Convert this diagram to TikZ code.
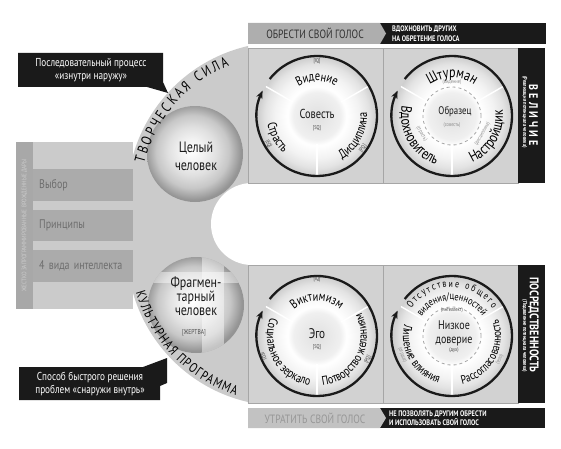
\documentclass[tikz,border=0pt]{standalone}
\usepackage{fontspec}
\setmainfont{PT Sans}[FakeStretch=0.8]
\usetikzlibrary{arrows.meta,decorations.text,calc}

\definecolor{bandgray}{HTML}{CBCBCB}
\definecolor{panelgray}{HTML}{D2D2D2}
\definecolor{stripgray}{HTML}{A8A8A8}
\definecolor{boxgray}{HTML}{ABABAB}
\definecolor{boxtext}{HTML}{6E6E6E}
\definecolor{inkblack}{HTML}{1A1A1A}
\definecolor{bannergray}{HTML}{AEAEAE}
\definecolor{palebanner}{HTML}{C2C2C2}
\definecolor{paletext}{HTML}{979797}

\pgfdeclareradialshading{ringshade}{\pgfpoint{0bp}{0bp}}{color(0bp)=(black!12); color(10bp)=(black!6); color(12.5bp)=(white); color(18bp)=(black!5); color(22bp)=(black!11); color(25bp)=(black!19); color(50bp)=(black!19)}
\pgfdeclareradialshading{globeshade}{\pgfpoint{-2bp}{2bp}}{color(0bp)=(white); color(6bp)=(black!5); color(12.5bp)=(black!12); color(19bp)=(black!22); color(25bp)=(black!42); color(50bp)=(black!42)}

\newcommand{\lblfont}{\fontsize{13}{13}\selectfont}
\newcommand{\bigfont}{\fontsize{15}{15}\selectfont}
\newcommand{\tinyfont}{\fontsize{5.5}{5.5}\selectfont}

\tikzset{
  panel/.style={fill=panelgray, draw=black!35, line width=0.4pt},
  divider/.style={draw=white, line width=1.4pt},
  ringarrow/.style={draw=inkblack, line width=2.3pt, -{Stealth[length=8pt,width=6.5pt]}},
  curved/.style={decorate, decoration={text along path, text align=center, text={#1}}},
  fitted/.style={decorate, decoration={text along path, text align={fit to path}, text={#1}}},
  iq/.style={font=\tinyfont, text=black!75, inner sep=0pt},
  hint/.style={font=\tinyfont, text=black!45, inner sep=0pt},
  listbox/.style={fill=boxgray, text=boxtext, font=\fontsize{12.5}{12.5}\selectfont, anchor=south west,
    text width=88pt, inner xsep=6pt, align=left, minimum height=32pt},
  callout/.style={text=white, font=\fontsize{11.5}{12.5}\selectfont, align=center, inner sep=0pt},
  whitenote/.style={text=white, font=\fontsize{8}{9.5}\selectfont\bfseries, align=left, inner sep=0pt, anchor=west},
  center/.style={font=\lblfont, text=inkblack, inner sep=0pt, align=center},
}

\newcommand{\ringbase}[1]{%
  \begin{scope}[shift={#1}]
    \shade[shading=ringshade] (0,0) circle (59);
    \foreach \a in {150,30,270} \draw[divider] (\a:28) -- (\a:59);
    \draw[ringarrow] (142:60) arc[start angle=142,end angle=-205,radius=60];
  \end{scope}}

\begin{document}
\begin{tikzpicture}[x=1pt,y=1pt]
\useasboundingbox (0,0) rectangle (561,448);

% band round the two men
\fill[bandgray] (248,45) -- (248,402) arc[start angle=103,end angle=180,radius=156]
  -- (127,198) arc[start angle=180,end angle=257,radius=156] -- cycle;
\fill[bandgray] (16,139) rectangle (133,306);
\fill[stripgray] (16,139) rectangle (33,306);
\fill[white] (252,224) circle (41);

\node[rotate=90, font=\fontsize{6.5}{6.5}\selectfont, text=white!80!black, inner sep=0pt] (gifts) at (24.5,222.5)
  {ЖЕСТКО ЗАПРОГРАММИРОВАННЫЕ ВРОЖДЕННЫЕ ДАРЫ};
\node[listbox] (choice) at (33,247) {Выбор};
\node[listbox, minimum height=31pt] (principles) at (33,207) {Принципы};
\node[listbox] (intel) at (33,166) {4 вида интеллекта};

% panels
\draw[panel] (248,265) rectangle (383,400);
\draw[panel] (383,265) rectangle (518,400);
\draw[panel] (248,45) rectangle (383,183);
\draw[panel] (383,45) rectangle (518,183);
\fill[inkblack] (518,265) rectangle (545,400);
\fill[inkblack] (518,45) rectangle (545,183);

\node[rotate=-90, text=white, font=\fontsize{12.5}{12.5}\selectfont\bfseries\addfontfeatures{LetterSpace=25}, inner sep=0pt]
  (great) at (533.5,333) {ВЕЛИЧИЕ};
\node[rotate=-90, text=white, font=\fontsize{5.8}{5.8}\selectfont\bfseries, inner sep=0pt]
  (greatsub) at (524.5,336) {(Реализация потенциала человека)};
\node[rotate=-90, text=white, font=\fontsize{12.5}{12.5}\selectfont\bfseries, inner sep=0pt]
  (medio) at (533.5,123) {ПОСРЕДСТВЕННОСТЬ};
\node[rotate=-90, text=white, font=\fontsize{5.8}{5.8}\selectfont\bfseries, inner sep=0pt]
  (mediosub) at (524.5,112) {(Подавление потенциала человека)};

% banners
\fill[inkblack] (380,404) rectangle (546,425);
\fill[bannergray] (248,404) -- (248,425) -- (380,425) -- (386,414.5) -- (380,404) -- cycle;
\node[font=\fontsize{12}{12}\selectfont, text=black!80, inner sep=0pt] (gain) at (315,414.5) {ОБРЕСТИ СВОЙ ГОЛОС};
\node[whitenote] (inspire) at (392,414.5) {ВДОХНОВИТЬ ДРУГИХ\\НА ОБРЕТЕНИЕ ГОЛОСА};
\fill[inkblack] (380,20) rectangle (545,40);
\fill[palebanner] (248,20) -- (248,40) -- (380,40) -- (386,30) -- (380,20) -- cycle;
\node[font=\fontsize{12}{12}\selectfont, text=paletext, inner sep=0pt] (lose) at (315,30) {УТРАТИТЬ СВОЙ ГОЛОС};
\node[whitenote] (forbid) at (389,30) {НЕ ПОЗВОЛЯТЬ ДРУГИМ ОБРЕСТИ\\И ИСПОЛЬЗОВАТЬ СВОЙ ГОЛОС};

% rings
\ringbase{(317,332)}
\ringbase{(452,332)}
\ringbase{(317,112)}
\ringbase{(452,112)}

\begin{scope}[shift={(317,332)}]
  \path[curved={|\lblfont|Видение}] (150:35) arc[start angle=150,end angle=30,radius=35];
  \path[curved={|\lblfont|Страсть}] (165:50) arc[start angle=165,end angle=251,radius=50];
  \path[curved={|\lblfont|Дисциплина}] (-75:50) arc[start angle=-75,end angle=19,radius=50];
  \node[iq] (iqa) at (90:55) {[IQ]};
  \node[iq, rotate=-60] (eqa) at (210:56) {[EQ]};
  \node[iq, rotate=55] (pqa) at (-35:56) {[PQ]};
  \node[center] (conscience) at (0,2) {Совесть};
  \node[iq] (sqa) at (0,-12) {[SQ]};
\end{scope}

\begin{scope}[shift={(452,332)}]
  \draw[black!35, dashed, line width=0.8pt] (0,0) circle (29);
  \path[curved={|\bigfont|Штурман}] (160:38) arc[start angle=160,end angle=20,radius=38];
  \path[curved={|\bigfont|Вдохновитель}] (148:51) arc[start angle=148,end angle=272,radius=51];
  \path[curved={|\bigfont|Настройщик}] (-92:51) arc[start angle=-92,end angle=32,radius=51];
  \node[hint] (visiona) at (90:34) {(видение)};
  \node[hint, rotate=-60] (passiona) at (210:35) {(страсть)};
  \node[hint, rotate=60] (disca) at (-30:35) {(дисциплина)};
  \node[center, font=\fontsize{11}{11}\selectfont] (model) at (3,4) {Образец};
  \node[hint] (consa) at (0,-9) {(совесть)};
\end{scope}

\begin{scope}[shift={(317,112)}]
  \path[curved={|\lblfont|Виктимизм}] (150:35) arc[start angle=150,end angle=30,radius=35];
  \path[curved={|\fontsize{12.5}{12.5}\selectfont|Социальное зеркало}] (146:50) arc[start angle=146,end angle=274,radius=50];
  \path[curved={|\fontsize{12.5}{12.5}\selectfont|Потворство желаниям}] (-94:50) arc[start angle=-94,end angle=38,radius=50];
  \node[iq] (iqb) at (90:57) {[IQ]};
  \node[iq, rotate=-69] (eqb) at (201:58) {[EQ]};
  \node[iq, rotate=65] (pqb) at (-25:56) {[PQ]};
  \node[center, font=\fontsize{14}{14}\selectfont] (ego) at (0,2) {Эго};
  \node[iq] (sqb) at (0,-11) {[SQ]};
\end{scope}

\begin{scope}[shift={(452,112)}]
  \draw[black!35, dashed, line width=0.8pt] (0,0) circle (29);
  \path[fitted={|\fontsize{10}{10}\selectfont|Отсутствие общего}] (146:49) arc[start angle=146,end angle=34,radius=49];
  \path[curved={|\fontsize{10.5}{10.5}\selectfont|видения/ценностей}] (165:36) arc[start angle=165,end angle=15,radius=36];
  \node[iq] (intb) at (90:26) {(интеллект)};
  \path[curved={|\fontsize{12}{12}\selectfont|Лишение влияния}] (148:49) arc[start angle=148,end angle=272,radius=49];
  \path[curved={|\fontsize{12}{12}\selectfont|Рассогласованность}] (-90:49) arc[start angle=-90,end angle=32,radius=49];
  \node[hint, rotate=-69] (heartb) at (201:53) {(сердце)};
  \node[hint, rotate=64] (bodyb) at (-26:53) {(тело)};
  \node[center, font=\fontsize{12.5}{14}\selectfont] (lowtrust) at (2,3) {Низкое\\доверие};
  \node[iq] (spiritb) at (2,-14) {(дух)};
\end{scope}

% the two men
\shade[shading=globeshade] (195,294) circle (48);
\node[center, font=\fontsize{15}{18}\selectfont] (whole) at (196,292) {Целый\\человек};
\begin{scope}
  \clip (196,143) circle (48);
  \shade[shading=globeshade] (196,143) circle (48);
  \fill[white, opacity=0.45] (202,90) rectangle (224,200);
  \fill[white, opacity=0.45] (140,165) rectangle (250,176);
\end{scope}
\node[center, font=\fontsize{15}{14}\selectfont] (fragment) at (196,152) {Фрагмен-\\тарный\\человек};
\node[font=\fontsize{7}{7}\selectfont, text=black!70, inner sep=0pt] (victim) at (194,115) {[ЖЕРТВА]};

\path[fitted={|\fontsize{14.5}{14.5}\selectfont|ТВОРЧЕСКАЯ СИЛА}] ($(283,250)+(166:143)$) arc[start angle=166,end angle=112,radius=143];
\path[fitted={|\fontsize{13.5}{13.5}\selectfont|КУЛЬТУРНАЯ ПРОГРАММА}] ($(283,198)+(196:153)$) arc[start angle=196,end angle=252,radius=153];

% callouts
\fill[inkblack] (18,395) -- (163,395) -- (163,366) -- (168,355) -- (147,361) -- (18,361) -- cycle;
\node[callout] (insideout) at (91,378) {Последовательный процесс\\«изнутри наружу»};
\fill[inkblack] (19,81) -- (143,81) -- (167,90) -- (167,65) -- (160,62) -- (160,48) -- (19,48) -- cycle;
\node[callout] (outsidein) at (90,64) {Способ быстрого решения\\проблем «снаружи внутрь»};
\end{tikzpicture}
\end{document}
